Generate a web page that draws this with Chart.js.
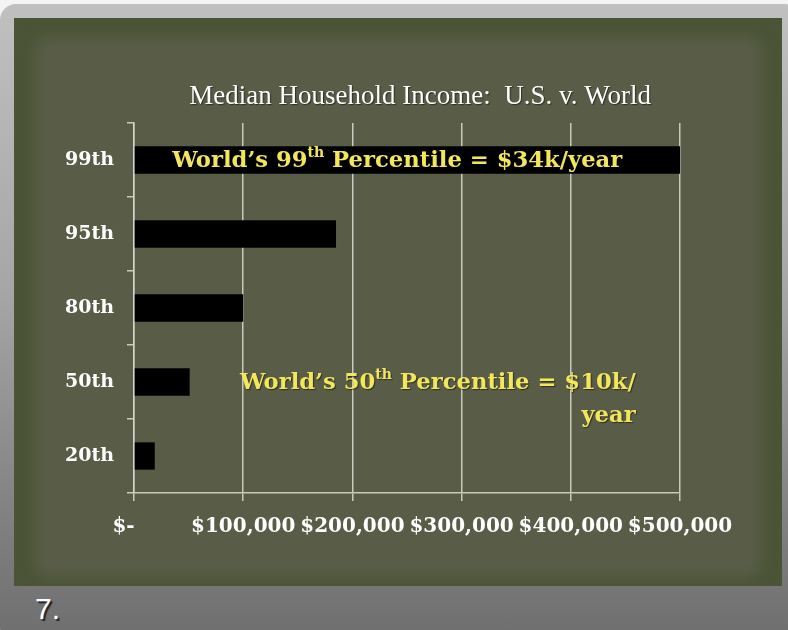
<!DOCTYPE html>
<html>
<head>
<meta charset="utf-8">
<script src="https://cdn.jsdelivr.net/npm/chart.js@4.4.1/dist/chart.umd.min.js"></script>
<style>
  body { margin: 0; background: #f4f4f4; }
  #frame {
    position: absolute; left: 0; top: 4px; width: 800px; height: 640px;
    border-radius: 16px;
    background: linear-gradient(#c0c0c0, #a6a6a6 45%, #7c7c7c 85%, #6e6e6e);
  }
  #board {
    position: absolute; left: 14px; top: 18px; width: 768px; height: 568px;
    background: #4b5436; overflow: hidden;
  }
  #paper {
    position: absolute; left: 30px; top: 28px; width: 708px; height: 522px;
    background: #595d47;
    box-shadow: 0 0 14px 10px #595d47;
    border-radius: 6px;
  }
  #num {
    position: absolute; left: 35px; top: 592px;
    font: 30px "Liberation Sans", Arial, sans-serif; color: #fff;
    text-shadow: 2px 2px 1px #222;
  }
  #wrap { position: absolute; left: 0; top: 0; width: 788px; height: 630px; }
</style>
</head>
<body>
<div id="frame"></div>
<div id="board"><div id="paper"></div></div>
<div id="num">7.</div>
<div id="wrap"><canvas id="chart"></canvas></div>
<script>
const percentiles = ['99th', '95th', '80th', '50th', '20th'];
const usIncome = [500000, 185000, 100000, 51000, 19000];
const xTicks = [0, 100000, 200000, 300000, 400000, 500000];

const chartTitle = 'Median Household Income:  U.S. v. World';
const note99 = ['World\u2019s 99', 'th', ' Percentile = $34k/year'];
const note50 = ['World\u2019s 50', 'th', ' Percentile = $10k/'];
const note50b = 'year';

const lineColor = 'rgba(214, 214, 204, 0.9)';
const yellow = '#f2e65c';
const noteFont = '"DejaVu Serif", serif';

function drawSup(ctx, parts, x, yMid, size) {
  ctx.textBaseline = 'middle';
  ctx.textAlign = 'left';
  ctx.font = 'bold ' + size + 'px ' + noteFont;
  ctx.fillText(parts[0], x, yMid);
  x += ctx.measureText(parts[0]).width;
  ctx.font = 'bold ' + Math.round(size * 0.62) + 'px ' + noteFont;
  ctx.fillText(parts[1], x, yMid - size * 0.32);
  x += ctx.measureText(parts[1]).width;
  ctx.font = 'bold ' + size + 'px ' + noteFont;
  ctx.fillText(parts[2], x, yMid);
  return x + ctx.measureText(parts[2]).width;
}

const slideText = {
  id: 'slideText',
  afterDatasetsDraw(chart) {
    const ctx = chart.ctx;
    const x = chart.scales.x;
    const y = chart.scales.y;
    ctx.save();
    ctx.shadowColor = 'rgba(0,0,0,0.5)';
    ctx.shadowOffsetX = 1;
    ctx.shadowOffsetY = 1;
    ctx.shadowBlur = 1;

    ctx.fillStyle = '#ffffff';
    ctx.font = '27px "Liberation Serif", serif';
    ctx.textAlign = 'center';
    ctx.textBaseline = 'middle';
    ctx.fillText(chartTitle, x.getPixelForValue(262000), y.top - 26);

    ctx.fillStyle = yellow;
    drawSup(ctx, note99, x.getPixelForValue(35000), y.getPixelForValue(0) + 1, 22.7);
    const end = drawSup(ctx, note50, x.getPixelForValue(97000), y.getPixelForValue(3) + 1, 22.7);
    ctx.textAlign = 'right';
    ctx.fillText(note50b, end, y.getPixelForValue(3) + 34);
    ctx.restore();
  }
};

new Chart(document.getElementById('chart'), {
  type: 'bar',
  data: {
    labels: percentiles,
    datasets: [{
      label: 'U.S.',
      data: usIncome,
      backgroundColor: '#000000',
      barPercentage: 0.37,
      categoryPercentage: 1
    }]
  },
  options: {
    indexAxis: 'y',
    responsive: true,
    maintainAspectRatio: false,
    animation: false,
    layout: { padding: { top: 123, right: 108, left: 0, bottom: 0 } },
    plugins: {
      legend: { display: false },
      tooltip: { enabled: false }
    },
    scales: {
      x: {
        min: 0,
        max: 500000,
        afterBuildTicks: (scale) => { scale.ticks = xTicks.map(v => ({ value: v })); },
        afterFit: (scale) => { scale.height = 137; },
        grid: { color: lineColor, lineWidth: 1.5, tickLength: 8 },
        border: { color: lineColor, width: 1.5 },
        ticks: {
          color: '#ffffff',
          padding: 14,
          maxRotation: 0,
          font: { family: '"DejaVu Serif", serif', weight: 'bold', size: 20 },
          callback: (v) => v === 0 ? '$-   ' : '$' + v.toLocaleString('en-US')
        }
      },
      y: {
        afterFit: (scale) => { scale.width = 134; },
        grid: { drawOnChartArea: false, color: lineColor, lineWidth: 1.5, tickLength: 7, offset: true },
        border: { color: lineColor, width: 1.5 },
        ticks: {
          color: '#ffffff',
          padding: 13,
          font: { family: '"DejaVu Serif", serif', weight: 'bold', size: 19 }
        }
      }
    }
  },
  plugins: [slideText]
});
</script>
</body>
</html>
